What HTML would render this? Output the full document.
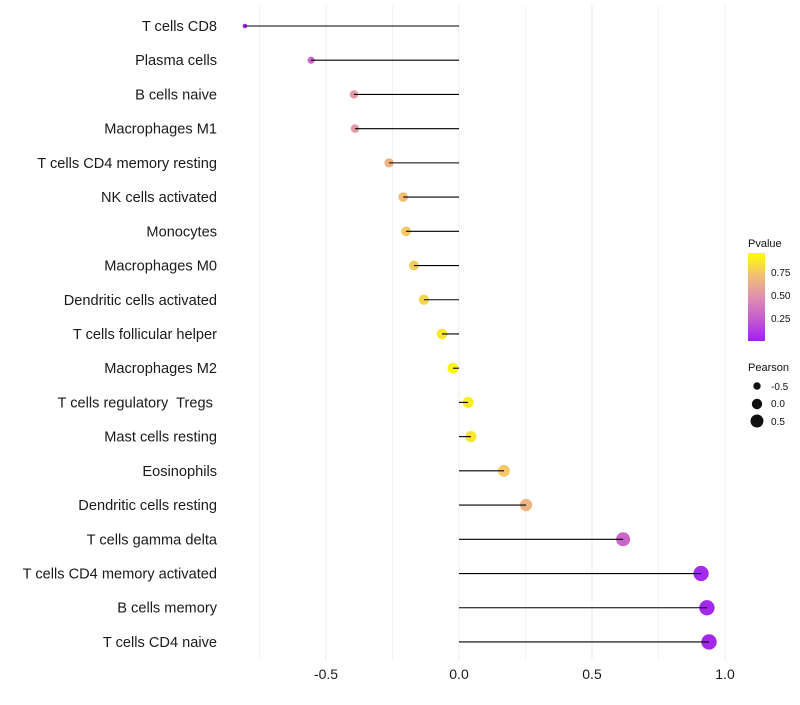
<!DOCTYPE html>
<html><head><meta charset="utf-8"><style>
body{margin:0;background:#fff;font-family:"Liberation Sans",sans-serif}
</style></head><body>
<svg id="chart" width="800" height="700">
<defs><linearGradient id="pg" x1="0" y1="1" x2="0" y2="0">
<stop offset="0" stop-color="#a020f0"/><stop offset="0.25" stop-color="#c45cd0"/><stop offset="0.5" stop-color="#e090b0"/><stop offset="0.75" stop-color="#f2c072"/><stop offset="1" stop-color="#ffff00"/></linearGradient></defs>
<g id="grid"></g><g id="marks"></g><g id="ylabels"></g><g id="xlabels"></g>
<g font-size="10" fill="#111">
<text x="748" y="247" font-size="11">Pvalue</text>
<rect x="748" y="253" width="17" height="88" fill="url(#pg)"/>
<text x="771" y="276">0.75</text>
<text x="771" y="299">0.50</text>
<text x="771" y="322">0.25</text>
<text x="748" y="371" font-size="11">Pearson</text>
<circle cx="757" cy="386" r="3.7"/><text x="771" y="390">-0.5</text>
<circle cx="757" cy="404" r="5.2"/><text x="771" y="407">0.0</text>
<circle cx="757" cy="421" r="6.5"/><text x="771" y="425">0.5</text>
</g>
</svg>
<script>
const categories=["T cells CD8","Plasma cells","B cells naive","Macrophages M1","T cells CD4 memory resting","NK cells activated","Monocytes","Macrophages M0","Dendritic cells activated","T cells follicular helper","Macrophages M2","T cells regulatory  Tregs ","Mast cells resting","Eosinophils","Dendritic cells resting","T cells gamma delta","T cells CD4 memory activated","B cells memory","T cells CD4 naive"];
const pearson=[-0.805,-0.556,-0.395,-0.391,-0.263,-0.21,-0.199,-0.169,-0.132,-0.064,-0.023,0.034,0.045,0.169,0.252,0.617,0.91,0.932,0.94];
const pvalues=[0.02,0.3,0.55,0.55,0.68,0.74,0.78,0.8,0.83,0.9,0.97,0.93,0.9,0.78,0.68,0.3,0.04,0.03,0.03];
const xTicks=[-0.5,0,0.5,1];
const xTickLabels=["-0.5","0.0","0.5","1.0"];
const xMinor=[-0.75,-0.25,0.25,0.75];
const NS="http://www.w3.org/2000/svg";
const X=v=>459+v*266;
const Y=i=>26+i*34.22;
function mk(t,a,p){const e=document.createElementNS(NS,t);for(const k in a)e.setAttribute(k,a[k]);document.getElementById(p).appendChild(e);return e;}
const stops=[[160,32,240],[196,92,208],[224,144,176],[242,192,114],[255,255,0]];
function col(p){const s=Math.min(3.999,Math.max(0,p*4));const k=Math.floor(s),t=s-k;const a=stops[k],b=stops[k+1];return `rgb(${a.map((x,i)=>Math.round(x+(b[i]-x)*t))})`;}
xMinor.concat(xTicks).forEach(v=>{const l=mk('line',{x1:X(v),x2:X(v),y1:5,y2:660,stroke:xTicks.includes(v)?'#ebebeb':'#f3f3f3','stroke-width':1},'grid');

});
xTicks.forEach((v,i)=>{const t=mk('text',{x:X(v),y:679,'text-anchor':'middle','font-size':14,fill:'#1a1a1a'},'xlabels');t.textContent=xTickLabels[i];

});
categories.forEach((c,i)=>{const y=Y(i);
const r=Math.sqrt(Math.max(4,30+31*pearson[i]));
const pt=mk('circle',{cx:X(pearson[i]),cy:y,r:r,fill:col(pvalues[i])},'marks');


const s=mk('line',{x1:X(0),x2:X(pearson[i]),y1:y,y2:y,stroke:'#000','stroke-width':1.1},'marks');


const t=mk('text',{x:217,y:y+5,'text-anchor':'end','font-size':14.6,fill:'#1a1a1a'},'ylabels');t.style.whiteSpace='pre';t.textContent=c;

});
</script>
</body></html>
